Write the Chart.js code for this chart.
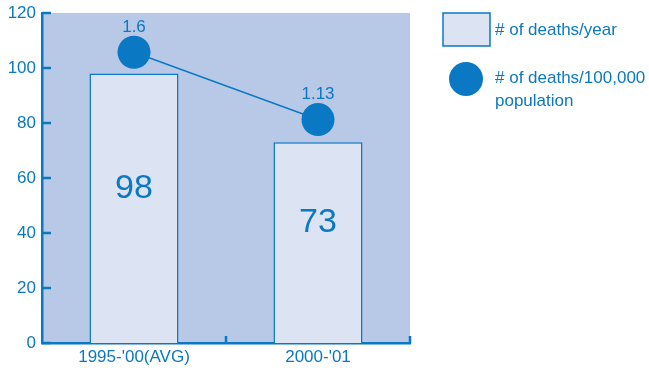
<!DOCTYPE html>
<html>
<head>
    <meta charset='UTF-8'>
    <script src="https://cdn.jsdelivr.net/npm/chart.js"></script>
    <style>
        body { margin: 0; background: #fff; }
        #wrap { width: 649px; height: 370px; }
    </style>
</head>
<body>
    <div id="wrap"><canvas id="myChart"></canvas></div>
    <script>
        const categories = ["1995-'00(AVG)", "2000-'01"];
        const deathsPerYear = [98, 73];
        const deathsPer100k = [1.6, 1.13];
        const yTicks = [0, 20, 40, 60, 80, 100, 120];
        const legendLabels = ['# of deaths/year', ['# of deaths/100,000', 'population']];

        const blue = '#0a78c2';
        const plotBg = '#b8c9e7';
        const barFill = '#dce3f3';
        const font = '"Liberation Sans", Arial, sans-serif';

        const drawExtras = {
            id: 'drawExtras',
            beforeDraw(chart) {
                const { ctx, chartArea: a } = chart;
                ctx.save();
                ctx.fillStyle = plotBg;
                ctx.fillRect(a.left, a.top, a.right - a.left, a.bottom - a.top);
                ctx.restore();
            },
            afterDatasetsDraw(chart) {
                const { ctx, chartArea: a, scales } = chart;
                ctx.save();
                ctx.strokeStyle = blue;
                ctx.lineWidth = 2.5;
                // inner ticks on y axis
                yTicks.forEach(v => {
                    const y = scales.y.getPixelForValue(v);
                    ctx.beginPath();
                    ctx.moveTo(a.left, y);
                    ctx.lineTo(a.left + 9, y);
                    ctx.stroke();
                });
                // ticks on x axis between categories
                [0.5, 1.5].forEach(v => {
                    const x = scales.x.getPixelForValue(v);
                    ctx.beginPath();
                    ctx.moveTo(x, a.bottom);
                    ctx.lineTo(x, a.bottom - 7);
                    ctx.stroke();
                });
                // bar value labels
                ctx.fillStyle = blue;
                ctx.textAlign = 'center';
                ctx.textBaseline = 'middle';
                ctx.font = '34px ' + font;
                deathsPerYear.forEach((v, i) => {
                    ctx.fillText(String(v), scales.x.getPixelForValue(i), scales.y.getPixelForValue(v / 2) - 20);
                });
                // point labels
                ctx.font = '17px ' + font;
                deathsPer100k.forEach((v, i) => {
                    ctx.fillText(String(v), scales.x.getPixelForValue(i), scales.y2.getPixelForValue(v) - 25);
                });
                ctx.restore();
            },
            afterDraw(chart) {
                const { ctx } = chart;
                ctx.save();
                ctx.fillStyle = barFill;
                ctx.strokeStyle = blue;
                ctx.lineWidth = 1.5;
                ctx.fillRect(443, 13, 47, 33);
                ctx.strokeRect(443, 13, 47, 33);
                ctx.fillStyle = blue;
                ctx.beginPath();
                ctx.arc(466, 79, 17, 0, Math.PI * 2);
                ctx.fill();
                ctx.font = '17px ' + font;
                ctx.textAlign = 'left';
                ctx.textBaseline = 'middle';
                ctx.fillText(legendLabels[0], 495, 30);
                ctx.fillText(legendLabels[1][0], 495, 78);
                ctx.fillText(legendLabels[1][1], 495, 101);
                ctx.restore();
            }
        };

        const config = {
            type: 'bar',
            data: {
                labels: categories,
                datasets: [
                    {
                        type: 'line',
                        label: '# of deaths/100,000 population',
                        data: deathsPer100k,
                        yAxisID: 'y2',
                        borderColor: blue,
                        backgroundColor: blue,
                        borderWidth: 1.5,
                        pointRadius: 16.5,
                        pointHoverRadius: 16.5,
                        pointBackgroundColor: blue,
                        pointBorderWidth: 0,
                        clip: false,
                        order: 0
                    },
                    {
                        label: '# of deaths/year',
                        data: deathsPerYear,
                        yAxisID: 'y',
                        backgroundColor: barFill,
                        borderColor: blue,
                        borderWidth: 1.5,
                        barPercentage: 0.484,
                        categoryPercentage: 1,
                        order: 1
                    }
                ]
            },
            options: {
                animation: false,
                responsive: true,
                maintainAspectRatio: false,
                layout: { autoPadding: false, padding: { top: 13, right: 239, left: 0, bottom: 0 } },
                plugins: { legend: { display: false }, tooltip: { enabled: false } },
                scales: {
                    x: {
                        grid: { display: false, drawTicks: false },
                        border: { display: true, color: blue, width: 2.5 },
                        ticks: { color: blue, font: { family: font, size: 17 }, padding: 4 },
                        afterFit(s) { s.height = 27; s.paddingLeft = 0; s.paddingRight = 0; }
                    },
                    y: {
                        min: 0, max: 120,
                        grid: { display: false, drawTicks: false },
                        border: { display: true, color: blue, width: 2.5 },
                        ticks: { stepSize: 20, color: blue, font: { family: font, size: 17 }, padding: 6 },
                        afterFit(s) { s.width = 42; s.paddingTop = 0; s.paddingBottom = 0; }
                    },
                    y2: {
                        display: false,
                        min: -0.43, max: 1.874
                    }
                }
            },
            plugins: [drawExtras]
        };
        const myChart = new Chart(document.getElementById('myChart'), config);
    </script>
</body>
</html>
